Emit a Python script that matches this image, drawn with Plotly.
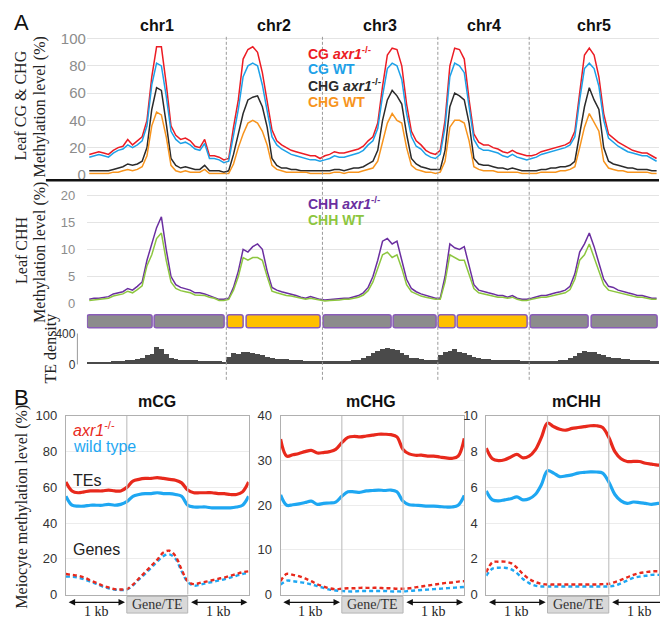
import plotly.graph_objects as go

# ---------------- DATA ----------------
chroms = ["chr1", "chr2", "chr3", "chr4", "chr5"]
chrom_bins = [29, 20, 24, 19, 27]          # 1-Mb bins per chromosome
centromere = [13.9, 4.0, 14.6, 4.0, 12.7]  # Mb from chromosome start
arm_colors = ["#8c8c8c", "#ffc000", "#8c8c8c", "#ffc000", "#8c8c8c"]

cg_axr1 = [15,16,17,16,15,18,20,21,26,22,25,28,40,72,94,94,67,36,29,26,27,25,21,20,26,14,14,13,11,
           12,35,55,85,92,94,90,75,55,33,25,22,20,18,17,16,15,14,14,12,
           14,15,17,16,16,17,18,19,21,25,28,38,65,88,93,92,80,52,32,25,22,18,16,15,
           18,40,80,93,92,85,55,30,24,22,22,20,19,17,16,18,16,15,14,
           14,15,17,18,19,20,21,22,24,32,60,88,93,88,72,45,30,27,24,22,20,18,17,16,16,14,12]
cg_wt = [13,14,15,14,13,16,18,19,22,20,22,25,36,66,82,80,58,32,26,23,24,22,19,18,23,12,12,11,9,
         10,30,48,72,80,82,80,66,48,28,22,19,17,15,14,13,12,11,11,10,
         11,12,14,13,13,14,15,16,18,22,25,34,58,78,82,80,70,45,28,21,19,15,13,12,
         15,35,72,82,80,75,50,26,20,18,18,17,16,14,13,15,13,12,11,
         12,13,15,16,17,18,19,20,22,28,55,78,82,78,65,40,27,24,21,19,17,16,15,14,14,12,10]
chg_axr1 = [3,3,3,3,3,4,5,6,8,7,8,10,20,48,64,62,38,12,7,5,6,5,4,4,7,3,3,3,2,
            3,15,30,45,55,57,58,50,35,12,7,5,5,4,4,3,3,3,3,3,
            3,3,4,4,3,4,5,5,6,8,10,18,40,55,62,58,52,30,12,8,6,5,4,4,
            4,18,50,60,58,55,38,12,8,7,7,6,5,5,4,5,4,3,3,
            3,3,4,4,5,5,6,6,7,10,30,50,64,55,48,20,10,8,7,6,5,5,4,4,4,3,3]
chg_wt = [1,1,1,1,1,2,2,3,4,3,4,6,14,36,46,44,28,7,3,2,3,2,2,2,4,1,1,1,1,
          1,8,20,30,38,40,38,32,22,7,4,3,2,2,2,2,2,1,1,1,
          1,1,2,2,1,2,2,2,3,4,5,10,25,38,45,40,38,20,7,4,3,2,2,1,
          2,10,35,40,40,38,25,6,4,3,3,3,2,2,2,2,2,1,1,
          1,1,2,2,2,2,3,3,4,6,20,35,45,38,32,10,5,4,3,3,2,2,2,2,2,1,1]
chh_axr1 = [0.8,1.0,1.0,1.2,1.3,1.8,2.0,2.2,2.8,2.5,3.2,4.0,8.0,11,14,16,10,5.0,3.5,3.0,2.8,2.5,2.0,2.0,1.8,1.5,1.2,0.8,0.8,
            1.0,3.0,6.0,10,9.5,10.5,11,10,6.0,3.0,2.5,2.2,2.0,1.8,1.5,1.2,1.0,1.3,1.0,0.8,
            0.7,0.8,0.8,0.9,1.0,1.0,1.2,1.5,2.0,3.0,5.0,8.0,11.5,12.0,11.0,11.5,8.0,4.5,2.8,2.2,1.8,1.5,1.2,1.0,
            1.0,5.0,11,10.3,10.0,10.5,7.0,3.5,2.5,2.2,2.0,1.8,1.5,1.5,1.2,1.5,1.0,0.8,0.8,
            1.0,1.2,1.5,1.5,1.8,2.0,2.2,2.5,3.2,5.5,9.5,11,13,10.5,7.5,4.5,3.2,3.0,2.5,2.2,2.0,1.8,1.5,1.5,1.2,1.0,1.0]
chh_wt = [0.6,0.7,0.8,0.9,1.0,1.4,1.6,1.8,2.3,2.0,2.6,3.3,7.0,9.0,12,13,8.0,4.0,2.8,2.4,2.2,2.0,1.6,1.6,1.5,1.2,1.0,0.6,0.6,
          0.8,2.5,5.0,8.5,8.0,8.5,8.5,8.0,5.0,2.3,2.0,1.7,1.5,1.4,1.2,1.0,0.8,1.0,0.8,0.6,
          0.5,0.6,0.6,0.7,0.8,0.8,1.0,1.2,1.6,2.4,4.0,6.5,9.0,9.5,8.5,9.0,6.5,3.5,2.2,1.8,1.4,1.2,1.0,0.8,
          0.8,4.0,9.0,8.5,8.0,8.0,5.5,2.8,2.0,1.8,1.6,1.4,1.2,1.2,1.0,1.2,0.8,0.6,0.6,
          0.8,1.0,1.2,1.2,1.4,1.6,1.8,2.0,2.6,4.5,8.0,9.0,11.0,8.5,6.0,3.5,2.5,2.3,2.0,1.8,1.6,1.4,1.2,1.2,1.0,0.8,0.8]
te_density = [30,30,35,30,35,40,45,50,60,55,70,80,120,140,230,200,140,90,70,60,60,55,55,50,50,45,45,40,35,
              100,150,140,170,160,150,140,120,100,80,75,70,70,60,60,55,50,50,45,40,
              40,40,45,45,50,50,55,60,80,110,150,180,200,220,210,190,150,120,90,80,70,65,60,55,
              120,160,180,200,170,150,120,100,80,75,70,65,65,60,60,55,55,50,45,
              40,40,45,45,50,50,55,60,80,110,150,180,170,160,140,120,100,90,80,75,70,65,60,60,55,50,45]
te_ticks = [0, 400]

# metaplots (upstream 1 kb | gene/TE body | downstream 1 kb)
meta_x = [0.0,0.1,0.2,0.3,0.4,0.5,0.6,0.7,0.8,0.9,1.0,1.1,1.2,1.3,1.4,1.5,1.6,1.7,1.8,1.9,
          2.0,2.1,2.2,2.3,2.4,2.5,2.6,2.7,2.8,2.9,3.0]
mcg_te_axr1 = [63,58,57,57.5,58,58,58,58.5,58,58,60,63.5,64.5,65,65,65.5,65,64.5,64,62.5,58.5,57,57,57,57,56.5,56.5,56,56,57.5,63]
mcg_te_wt = [55,50,49.5,49.5,50,50,50,50.5,50,50.5,52,55,56,56.5,56.5,57,56.5,56.5,56,55,50,49,49,49,48.5,48.5,48.5,48.5,49,50,55]
mcg_gene_axr1 = [11.5,11,10.5,9.5,8,6.5,5,4,3,2.8,3,5.5,9,12.5,16,19.5,23.5,24.5,21.5,14,7.5,5.8,6.5,7.2,8,8.8,9.5,10.5,11.5,12.5,13]
mcg_gene_wt = [10,10,9.5,8.5,7.2,6,4.5,3.5,2.8,2.5,2.8,5,8.5,11.5,15,18.5,21.5,22.5,20,13,7,5,5.5,6.3,7,7.8,8.5,9.5,10.5,11.5,12]
mchg_te_axr1 = [34.8,31,31.3,31.6,32,32.3,31.7,31.8,32,32.5,34,35.2,35.4,35.3,35.5,35.7,35.9,35.9,35.8,35.3,32.5,31.5,31.2,31.2,31,31,30.8,30.6,30.5,31,35]
mchg_te_wt = [22.3,20,20.1,20.3,20.6,20.9,20.2,20.4,20.5,20.7,22,23,23,22.9,23.2,23.3,23.4,23.3,23.4,23,20.9,20.1,20,19.9,19.8,19.8,19.7,19.6,19.6,20,22.2]
mchg_gene_axr1 = [3,4.6,4.4,4.1,3.6,3,2.3,1.8,1.4,1.2,1.3,1.4,1.4,1.5,1.5,1.5,1.5,1.4,1.4,1.3,1.3,1.4,1.6,1.8,2,2.2,2.4,2.6,2.7,2.9,3]
mchg_gene_wt = [2.2,3.1,3,2.8,2.6,2.3,1.9,1.5,1.1,0.9,0.8,0.7,0.7,0.8,0.8,0.8,0.8,0.8,0.7,0.7,0.7,0.8,0.9,1.0,1.1,1.2,1.3,1.4,1.5,1.6,1.7]
mchh_te_axr1 = [8.2,7.6,7.5,7.55,7.7,7.85,7.65,7.75,8.1,8.8,9.6,9.4,9.25,9.2,9.3,9.35,9.4,9.45,9.45,9.35,8.8,8.0,7.6,7.45,7.45,7.45,7.35,7.3,7.25,7.25,7.25]
mchh_te_wt = [5.8,5.3,5.24,5.3,5.36,5.47,5.3,5.36,5.6,6.15,6.93,6.8,6.6,6.64,6.7,6.8,6.84,6.87,6.86,6.8,6.3,5.6,5.24,5.1,5.18,5.15,5.1,5.05,5.1,5.1,5.1]
mchh_gene_axr1 = [1.24,1.8,1.84,1.84,1.76,1.5,1.15,0.87,0.7,0.6,0.56,0.56,0.56,0.56,0.56,0.56,0.56,0.56,0.56,0.58,0.6,0.7,0.82,0.96,1.1,1.2,1.25,1.3,1.3,1.3,1.3]
mchh_gene_wt = [1.05,1.45,1.5,1.5,1.42,1.2,0.87,0.64,0.5,0.45,0.45,0.45,0.45,0.45,0.45,0.45,0.45,0.45,0.45,0.45,0.45,0.5,0.63,0.78,0.93,1.0,1.05,1.1,1.1,1.1,1.1]

# ---------------- LAYOUT HELPERS ----------------
W, H = 660, 624
def px(x):
    return x / W
def py(y):
    return 1 - y / H

SANS = "Liberation Sans, Arial, Helvetica, sans-serif"
SERIF = "Liberation Serif, Times New Roman, serif"

RED, BLUE, BLACK, ORANGE = "#ec1c24", "#1da1e8", "#2b2b2b", "#f7941d"
PURPLE, GREEN = "#6b2fa0", "#8dc63f"
B_RED, B_BLUE = "#e8291c", "#1ea7f2"

offsets = []
acc = 0
for n in chrom_bins:
    offsets.append(acc)
    acc += n
total = acc
gx = [offsets[c] + i + 0.5 for c, n in enumerate(chrom_bins) for i in range(n)]

fig = go.Figure()

# --- panel A: CG / CHG
for ser, col in [(cg_axr1, RED), (cg_wt, BLUE), (chg_axr1, BLACK), (chg_wt, ORANGE)]:
    fig.add_trace(go.Scatter(x=gx, y=ser, mode="lines", line=dict(color=col, width=1.5),
                             xaxis="x", yaxis="y", showlegend=False, hoverinfo="skip"))
# --- panel A: CHH
for ser, col in [(chh_axr1, PURPLE), (chh_wt, GREEN)]:
    fig.add_trace(go.Scatter(x=gx, y=ser, mode="lines", line=dict(color=col, width=1.5),
                             xaxis="x", yaxis="y2", showlegend=False, hoverinfo="skip"))
# --- chromosome arms
gap = 0.25
bases, lens, cols = [], [], []
for c in range(len(chroms)):
    s = offsets[c]
    e = offsets[c] + chrom_bins[c]
    m = s + centromere[c]
    bases += [s + gap, m + gap]
    lens += [m - s - 2 * gap, e - m - 2 * gap]
    cols += [arm_colors[c], arm_colors[c]]
fig.add_trace(go.Bar(orientation="h", base=bases, x=lens, y=[0.5] * len(bases), width=0.78,
                     marker=dict(color=cols, line=dict(color="#8a5cb8", width=1.5), cornerradius=3),
                     xaxis="x", yaxis="y3", showlegend=False, hoverinfo="skip"))
# --- TE density
fig.add_trace(go.Bar(x=gx, y=te_density, width=1.0, marker=dict(color="#4a4a4a", line=dict(width=0)),
                     xaxis="x", yaxis="y4", showlegend=False, hoverinfo="skip"))

# --- panel B
panels = [
    ("x5", "y5", mcg_te_axr1, mcg_te_wt, mcg_gene_axr1, mcg_gene_wt),
    ("x6", "y6", mchg_te_axr1, mchg_te_wt, mchg_gene_axr1, mchg_gene_wt),
    ("x7", "y7", mchh_te_axr1, mchh_te_wt, mchh_gene_axr1, mchh_gene_wt),
]
for xa, ya, ta, tw, ga, gw in panels:
    fig.add_trace(go.Scatter(x=meta_x, y=tw, mode="lines", line=dict(color=B_BLUE, width=3.2, shape="spline"),
                             xaxis=xa, yaxis=ya, showlegend=False, hoverinfo="skip"))
    fig.add_trace(go.Scatter(x=meta_x, y=ta, mode="lines", line=dict(color=B_RED, width=3.2, shape="spline"),
                             xaxis=xa, yaxis=ya, showlegend=False, hoverinfo="skip"))
    fig.add_trace(go.Scatter(x=meta_x, y=gw, mode="lines", line=dict(color=B_BLUE, width=2.4, dash="4px,3px", shape="spline"),
                             xaxis=xa, yaxis=ya, showlegend=False, hoverinfo="skip"))
    fig.add_trace(go.Scatter(x=meta_x, y=ga, mode="lines", line=dict(color=B_RED, width=2.4, dash="4px,3px", shape="spline"),
                             xaxis=xa, yaxis=ya, showlegend=False, hoverinfo="skip"))

GRID = "#e4e4e4"
layout = dict(
    width=W, height=H, margin=dict(l=0, r=0, t=0, b=0), autosize=False,
    paper_bgcolor="white", plot_bgcolor="white",
    barmode="overlay", bargap=0, showlegend=False,
    font=dict(family=SANS, color="#222"),
    xaxis=dict(domain=[px(87), 1.0], range=[0, total], anchor="y4", visible=False, fixedrange=True),
    yaxis=dict(domain=[py(172), py(31)], range=[0, 101], tickvals=[0, 20, 40, 60, 80, 100], anchor="x",
               gridcolor=GRID, zeroline=False, showline=False,
               tickfont=dict(size=15, color="#8c8c8c")),
    yaxis2=dict(domain=[py(304), py(191)], range=[0, 20.3], tickvals=[0, 5, 10, 15, 20], anchor="x",
                gridcolor=GRID, zeroline=False, showline=False, ticks="outside", ticklen=8,
                tickcolor="rgba(0,0,0,0)", tickfont=dict(size=13, color="#8c8c8c")),
    yaxis3=dict(domain=[py(331), py(314)], range=[0, 1], anchor="x", visible=False),
    yaxis4=dict(domain=[py(367), py(333)], range=[-10, 430], tickvals=te_ticks, anchor="x",
                showgrid=False, zeroline=False, showline=False, ticks="outside", ticklen=8,
                tickcolor="rgba(0,0,0,0)", tickfont=dict(size=12, color="#333")),
)
b_dom = [(66, 249, [0, 3]), (281, 465, [0, 3]), (487, 660, [0, 2.82])]
b_y = [([0, 100], 20), ([0, 40], 10), ([0, 10], 2)]
for k, ((x0, x1, xr), (yr, dt)) in enumerate(zip(b_dom, b_y)):
    i = k + 5
    layout[f"xaxis{i}"] = dict(domain=[px(x0), px(x1)], range=xr, anchor=f"y{i}", showticklabels=False,
                               showgrid=False, zeroline=False, ticks="", showline=True, mirror=True,
                               linecolor="#b0b0b0", linewidth=1)
    layout[f"yaxis{i}"] = dict(domain=[py(602), py(419)], range=yr, dtick=dt, anchor=f"x{i}",
                               gridcolor="#ececec", zeroline=False, showline=True, mirror=True,
                               linecolor="#b0b0b0", linewidth=1, ticks="outside", ticklen=5,
                               tickcolor="rgba(0,0,0,0)", tickfont=dict(size=13, color="#333"))
fig.update_layout(**layout)

shapes = []
# chromosome separators
for c in range(1, len(chroms)):
    shapes.append(dict(type="line", xref="x", yref="paper", x0=offsets[c], x1=offsets[c],
                       y0=py(382), y1=py(30), line=dict(color="#9a9a9a", width=1, dash="3px,2px")))
# thick black divider
shapes.append(dict(type="line", xref="paper", yref="paper", x0=px(46), x1=1, y0=py(177.5), y1=py(177.5),
                   line=dict(color="#111", width=2.5)))
# TE density axis line
shapes.append(dict(type="line", xref="paper", yref="y4", x0=px(77.5), x1=px(77.5), y0=0, y1=te_ticks[-1] + 10,
                   line=dict(color="#999", width=1)))
annotations = []


def note(x, y, text, size, color="#222", family=SANS, xref="paper", yref="paper", xanchor="center", angle=0):
    annotations.append(dict(x=x, y=y, xref=xref, yref=yref, text=text, showarrow=False, textangle=angle,
                            xanchor=xanchor, yanchor="middle", font=dict(family=family, size=size, color=color)))


# panel B inner vertical lines, boxes and arrows
for k, (x0, x1, xr) in enumerate(b_dom):
    i = k + 5
    for v in (1, 2):
        shapes.append(dict(type="line", xref=f"x{i}", yref=f"y{i} domain", x0=v, x1=v, y0=0, y1=1,
                           line=dict(color="#c4c4c4", width=1.2)))
    shapes.append(dict(type="rect", xref=f"x{i}", yref="paper", x0=1.0, x1=2.0, y0=py(621), y1=py(604),
                       fillcolor="#d9d9d9", line=dict(color="#b5b5b5", width=1)))
    note(1.5, py(612.5), "Gene/TE", 14, "#333", SERIF, xref=f"x{i}")
    for a0, a1 in ((0.02, 0.97), (2.03, 2.98)):
        annotations.append(dict(x=a1, y=py(610), xref=f"x{i}", yref="paper", ax=a0, ay=0,
                                axref=f"x{i}", ayref="pixel", text="", showarrow=True,
                                arrowhead=2, arrowside="end+start", arrowsize=1, arrowwidth=1.3,
                                arrowcolor="#111"))
        note((a0 + a1) / 2, py(619), "1 kb", 14, "#222", SERIF, xref=f"x{i}")

# chromosome labels
for c, name in enumerate(chroms):
    note(offsets[c] + chrom_bins[c] / 2, py(19), f"<b>{name}</b>", 16, "#111", xref="x")
# panel letters
note(px(22), py(16), "A", 22, "#111")
note(px(22), py(400), "B", 22, "#111")
# legends A
leg = [("CG <i>axr1</i><sup>-/-</sup>", RED, 47), ("CG WT", BLUE, 64), ("CHG <i>axr1</i><sup>-/-</sup>", BLACK, 80),
       ("CHG WT", ORANGE, 97), ("CHH <i>axr1</i><sup>-/-</sup>", PURPLE, 201), ("CHH WT", GREEN, 218)]
for t, col, yy in leg:
    note(px(306), py(yy), f"<b>{t}</b>", 14, col, xanchor="left")
# y titles
for t, xx, yy in [("Leaf CG &amp; CHG", 21, 101), ("Methylation level (%)", 40, 102),
                  ("Leaf CHH", 21, 249), ("Methylation level (%)", 40, 251),
                  ("TE density", 51, 350), ("Meiocyte methylation level (%)", 22, 512)]:
    note(px(xx), py(yy), t, 16, "#222", SERIF, angle=-90)
# panel B titles and labels
for t, xx in [("mCG", 157), ("mCHG", 372), ("mCHH", 577)]:
    note(px(xx), py(404), f"<b>{t}</b>", 16, "#111")
for t, col, yy in [("<i>axr1</i><sup>-/-</sup>", B_RED, 432), ("wild type", B_BLUE, 450),
                   ("TEs", "#222", 485), ("Genes", "#222", 556)]:
    note(px(71), py(yy), t, 16, col, xanchor="left")

fig.update_layout(shapes=shapes, annotations=annotations)
fig.write_html("out.html", config={"displayModeBar": False},
               post_script="document.body.style.margin='0';document.body.style.overflow='hidden';")
